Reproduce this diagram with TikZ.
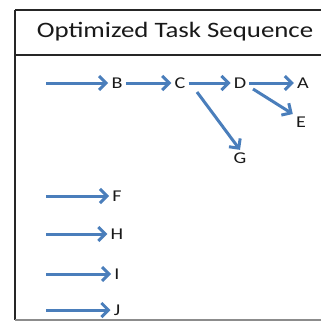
\documentclass[tikz,border=0pt]{standalone}
\usepackage{fontspec}
\setmainfont{Carlito}
\usetikzlibrary{arrows.meta}
\definecolor{flowblue}{HTML}{4A7EBB}
\begin{document}
\begin{tikzpicture}[x=1pt,y=-1pt,
  wide/.style={xscale=1.22, transform shape},
  task/.style={wide, inner sep=2.5pt, font=\fontsize{16.5}{16.5}\selectfont, text=black!90},
  flow/.style={draw=flowblue, line width=3pt,
    -{Straight Barb[length=7pt,width=14pt,line width=3pt]}},
  frame/.style={draw=black!85, line width=2.8pt}]
\useasboundingbox (0,0) rectangle (321,321);
% outer frame and header band
\draw[frame] (15,10) -- (340,10);
\draw[frame] (15,10) -- (15,320);
\draw[draw=black!45, line width=1.5pt] (15,320) -- (340,320);
\draw[frame] (15,55) -- (340,55);
\node[wide, font=\fontsize{22}{22}\selectfont, text=black!90] (title) at (175,32) {Optimized Task Sequence};
% main chain
\coordinate (s1) at (46,83);
\node[task] (B) at (117,83) {B};
\node[task] (C) at (180,83) {C};
\node[task] (D) at (240,83) {D};
\node[task] (A) at (303,83) {A};
\node[task] (E) at (301,122) {E};
\node[task] (G) at (240,158) {G};
\coordinate (dE) at (253,89);
\coordinate (cG) at (197,92);
\draw[flow] (s1) -- (B);
\draw[flow] (B) -- (C);
\draw[flow] (C) -- (D);
\draw[flow] (D) -- (A);
\draw[flow] (dE) -- (E.north west);
\draw[flow] (cG) -- (G.north);
% independent tasks
\coordinate (s2) at (46,196);
\coordinate (s3) at (46,234);
\coordinate (s4) at (46,274);
\coordinate (s5) at (46,310);
\node[task] (F) at (117,196) {F};
\node[task] (H) at (117,234) {H};
\node[task] (I) at (117,274) {I};
\node[task] (J) at (117,310) {J};
\draw[flow] (s2) -- (F);
\draw[flow] (s3) -- (H);
\draw[flow] (s4) -- (I);
\draw[flow] (s5) -- (J);
\end{tikzpicture}
\end{document}
